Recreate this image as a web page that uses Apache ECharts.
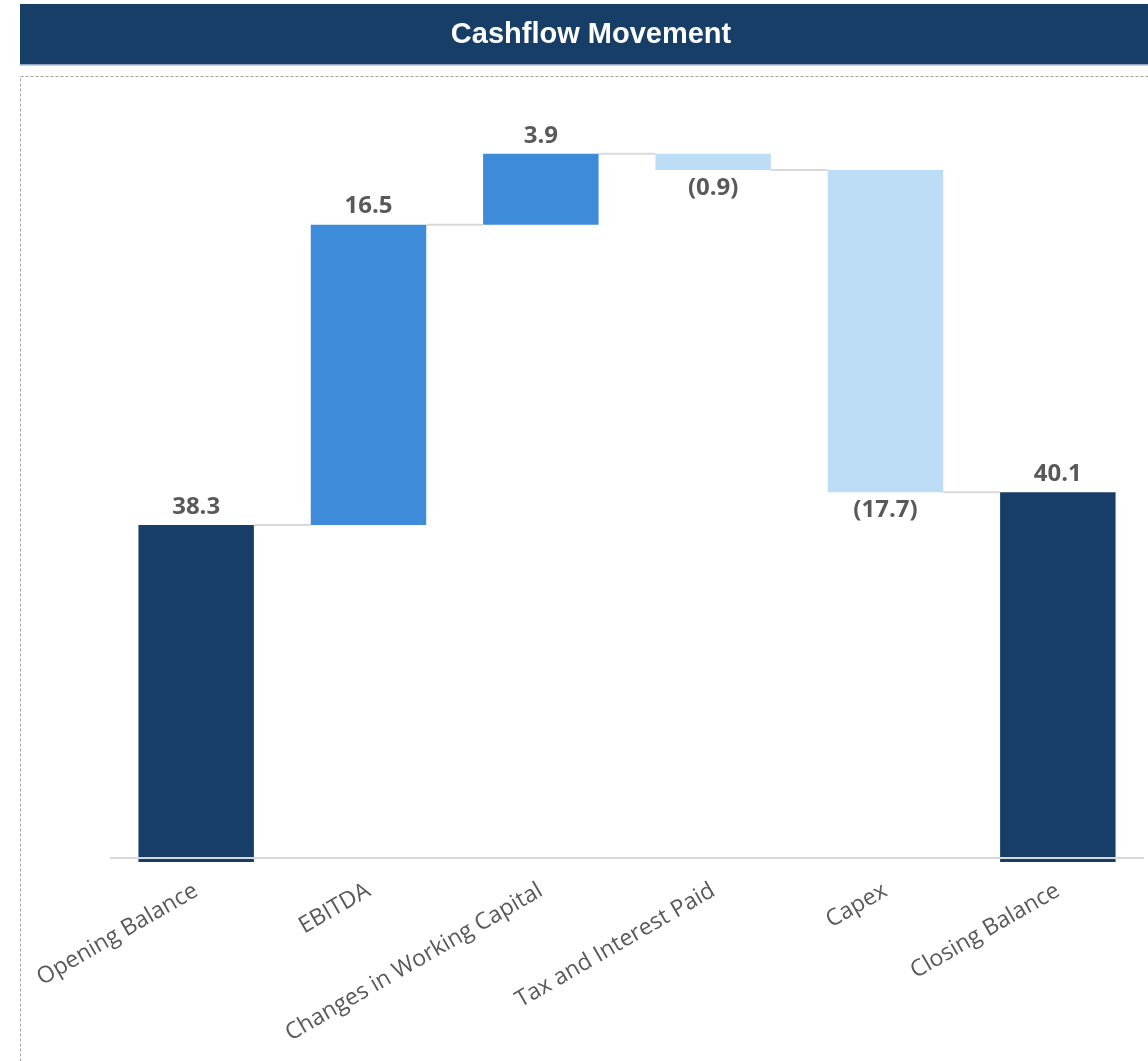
<!DOCTYPE html>
<html><head><meta charset="utf-8">
<script src="https://cdn.jsdelivr.net/npm/echarts@6/dist/echarts.min.js"></script>
<style>html,body{margin:0;padding:0;background:#fff}#c{width:1148px;height:1061px}</style>
</head><body><div id="c"></div>
<script>
const categories = ['Opening Balance','EBITDA','Changes in Working Capital','Tax and Interest Paid','Capex','Closing Balance'];
const amounts = [38.3, 16.5, 3.9, -0.9, -17.7, 40.1];
const isTotal = [true, false, false, false, false, true];

const NAVY = '#173E67', BLUE = '#3E8BD9', LIGHT = '#BDDCF6';

// build waterfall pieces
const base = [], height = [], ends = [];
let run = 0;
amounts.forEach((v, i) => {
  if (isTotal[i]) { base.push(0); height.push(v); run = v; }
  else if (v >= 0) { base.push(run); height.push(v); run += v; }
  else { base.push(run + v); height.push(-v); run += v; }
  ends.push(run);
});
const connectors = ends.slice(0, -1).map((lvl, i) => [i, lvl]);
const fmt = v => v < 0 ? '(' + Math.abs(v).toFixed(1) + ')' : v.toFixed(1);
const BAR_RATIO = 0.67;

const chart = echarts.init(document.getElementById('c'));
chart.setOption({
  animation: false,
  graphic: [
    { type: 'rect', shape: { x: 20, y: 4, width: 1130, height: 61 }, style: { fill: NAVY }, z: 0 },
    { type: 'rect', shape: { x: 20, y: 64, width: 1130, height: 1.5 }, style: { fill: '#8FA7C2' }, z: 0 },
    { type: 'text', x: 591, y: 35, style: { text: 'Cashflow Movement', fill: '#fff', font: 'bold 29px "Liberation Sans", Arial, sans-serif', textAlign: 'center', textVerticalAlign: 'middle' }, z: 1 },
    { type: 'rect', shape: { x: 20.5, y: 76.5, width: 1200, height: 1100 }, style: { fill: 'none', stroke: '#A0A0A0', lineWidth: 1, lineDash: [3, 2] }, z: 0 }
  ],
  grid: { left: 110, right: 4, top: 130, bottom: 199 },
  xAxis: {
    type: 'category', data: categories,
    axisLine: { show: false }, axisTick: { show: false },
    axisLabel: { rotate: 30, interval: 0, margin: 27, color: '#595959', fontSize: 23, fontFamily: '"Open Sans", sans-serif' }
  },
  yAxis: { type: 'value', min: 19.78, max: 60, show: false, splitLine: { show: false } },
  series: [
    { type: 'bar', stack: 'w', data: base, itemStyle: { color: 'transparent' }, barWidth: (BAR_RATIO * 100) + '%', silent: true, z: 3 },
    {
      type: 'bar', stack: 'w', z: 3,
      data: height.map((h, i) => ({
        value: h,
        itemStyle: { color: isTotal[i] ? NAVY : (amounts[i] >= 0 ? BLUE : LIGHT) },
        label: { position: amounts[i] < 0 ? 'bottom' : 'top' }
      })),
      label: {
        show: true, distance: 6, color: '#595959', fontSize: 24, fontWeight: 'bold', fontFamily: '"Open Sans", sans-serif',
        formatter: p => fmt(amounts[p.dataIndex])
      }
    },
    {
      type: 'custom', z: 2, silent: true,
      data: connectors,
      renderItem: (params, api) => {
        const i = api.value(0), lvl = api.value(1);
        const p1 = api.coord([i, lvl]), p2 = api.coord([i + 1, lvl]);
        const half = api.size([1, 0])[0] * BAR_RATIO / 2;
        return { type: 'line', shape: { x1: p1[0] + half, y1: p1[1], x2: p2[0] - half, y2: p2[1] }, style: { stroke: '#D9D9D9', lineWidth: 2 } };
      }
    },
    {
      type: 'line', data: [], z: 5, silent: true,
      markLine: { symbol: 'none', silent: true, label: { show: false }, lineStyle: { color: '#D9D9D9', width: 2, type: 'solid' }, data: [{ yAxis: 20 }] }
    }
  ]
});
</script></body></html>
